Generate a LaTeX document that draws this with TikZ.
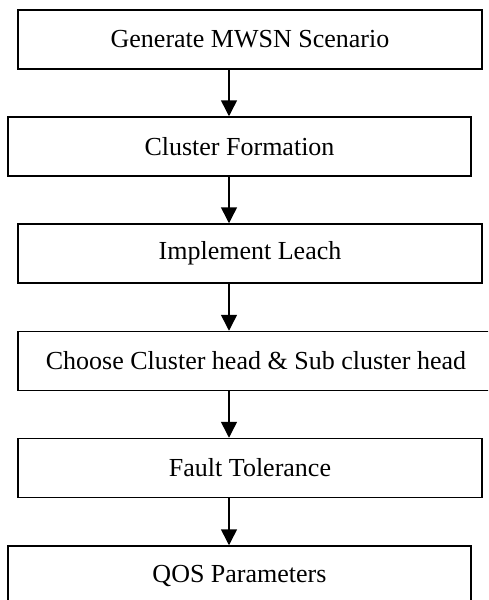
\documentclass[tikz,border=0pt]{standalone}
\usepackage{fontspec}
\setmainfont{Liberation Serif}
\usetikzlibrary{arrows.meta}
\tikzset{
    step box/.style = {draw, line width=1.5pt, inner sep=0pt, minimum height=59pt,
        font=\fontsize{26}{30}\selectfont},
}
\tikzset{
    flow/.style = {draw, line width=1.5pt, -{Triangle[length=16pt, width=16pt]}},
}

\begin{document}
\begin{tikzpicture}[x=1pt, y=-1pt]
        \clip (0, 0) rectangle (488, 600);
        \useasboundingbox (0, 0) rectangle (488, 600);
        \node[step box, minimum width=464pt] (gen) at (250, 39.5) {Generate MWSN Scenario};
        \node[step box, minimum width=463pt] (clu) at (239.5, 146.5) {Cluster Formation};
        \node[step box, minimum width=464pt] (lea) at (250, 253.5) {Implement Leach};
        \node[step box, minimum width=476pt] (chs) at (256, 361) {Choose Cluster head \& Sub cluster head};
        \node[step box, minimum width=464pt] (ft) at (250, 468) {Fault Tolerance};
        \node[step box, minimum width=463pt] (qos) at (239.5, 575.5) {QOS Parameters};
        \coordinate (ax) at (229, 0);
        \draw[flow] (gen.south -| ax) to (clu.north -| ax);
        \draw[flow] (clu.south -| ax) to (lea.north -| ax);
        \draw[flow] (lea.south -| ax) to (chs.north -| ax);
        \draw[flow] (chs.south -| ax) to (ft.north -| ax);
        \draw[flow] (ft.south -| ax) to (qos.north -| ax);
    \end{tikzpicture}
\end{document}
